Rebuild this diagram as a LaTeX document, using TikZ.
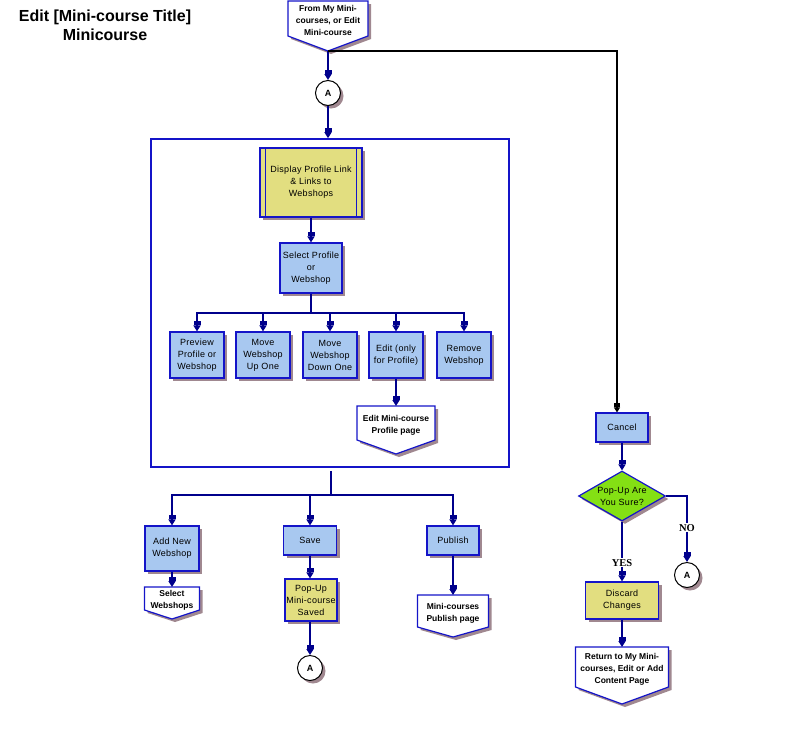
\documentclass[tikz,border=0pt]{standalone}
\usepackage{fontspec}
\setmainfont{Liberation Sans}
\newfontfamily\serifbold{Liberation Serif}[BoldFont={Liberation Serif Bold}]
\newfontfamily\boxfont{Liberation Sans}[LetterSpace=3]
\usetikzlibrary{arrows.meta,shapes.geometric,shadows,calc}
\definecolor{boxblue}{HTML}{A8C8F0}
\definecolor{edgeblue}{HTML}{1414C8}
\definecolor{navy}{HTML}{00008C}
\definecolor{boxyellow}{HTML}{E2DE80}
\definecolor{shadowc}{HTML}{A08890}
\definecolor{dgreen}{HTML}{84E014}
\tikzset{
  shad/.style={general shadow={fill=shadowc, shadow xshift=3pt, shadow yshift=-3pt}},
  proc/.style={shad, draw=edgeblue, line width=1.2pt, fill=boxblue, align=center,
    font=\boxfont\fontsize{9}{12}\selectfont, inner sep=1pt},
  yproc/.style={proc, fill=boxyellow},
  offtext/.style={align=center, font=\bfseries\fontsize{8.5}{12}\selectfont, inner sep=0pt},
  circ/.style={shad, circle, draw=black, line width=1pt, fill=white, minimum size=25pt,
    inner sep=0pt, font=\bfseries\fontsize{9}{10}\selectfont},
  arr/.style={draw=navy, line width=2.2pt,
    -{Rectangle[width=7pt,length=4pt]Triangle[width=7pt,length=6pt]}},
  ln/.style={draw=navy, line width=2.2pt},
  thinarr/.style={draw=navy, line width=1.6pt,
    -{Rectangle[width=7pt,length=4pt]Triangle[width=7pt,length=6pt]}},
  blkarr/.style={draw=black, line width=1.1pt,
    -{Rectangle[width=6pt,length=4pt]Triangle[width=6pt,length=5pt]}},
  lbl/.style={fill=white, inner sep=1pt, font=\serifbold\bfseries\fontsize{10.5}{12}\selectfont},
}
% name, cx, top, halfwidth, rect height, tip height, text
\newcommand\offpage[7]{%
  \fill[shadowc] ({#2-#4+3},{#3+3}) -- ({#2+#4+3},{#3+3}) -- ({#2+#4+3},{#3+#5+3})
     -- ({#2+3},{#3+#5+#6+3}) -- ({#2-#4+3},{#3+#5+3}) -- cycle;
  \draw[edgeblue, line width=1.2pt, fill=white] ({#2-#4},{#3}) -- ({#2+#4},{#3})
     -- ({#2+#4},{#3+#5}) -- ({#2},{#3+#5+#6}) -- ({#2-#4},{#3+#5}) -- cycle;
  \node[offtext] (#1) at ({#2},{#3+#5/2+2}) {#7};
  \coordinate (#1-top) at ({#2},{#3});
  \coordinate (#1-tip) at ({#2},{#3+#5+#6});
}
\begin{document}
\begin{tikzpicture}[x=1pt,y=-1pt]
\useasboundingbox (0,0) rectangle (800,732);

% title
\node[align=center, font=\bfseries\fontsize{16}{19}\selectfont] (title) at (105,25)
  {Edit [Mini-course Title]\\Minicourse};

% top off-page connector
\offpage{from}{328}{1}{40}{35}{15}{From My Mini-\\courses, or Edit\\Mini-course}

\node[circ] (A1) at (328,93) {A};

% big frame
\node[draw=edgeblue, line width=1.6pt, minimum width=358pt, minimum height=328pt,
  inner sep=0pt] (bigbox) at (330,303) {};

\node[yproc, minimum width=102pt, minimum height=69pt] (disp) at (311,182.5)
  {Display Profile Link\\\& Links to\\Webshops};
\draw[edgeblue, line width=1.2pt] ($(disp.north west)+(6,0)$) -- ($(disp.south west)+(6,0)$);
\draw[edgeblue, line width=1.2pt] ($(disp.north east)+(-6,0)$) -- ($(disp.south east)+(-6,0)$);

\node[proc, minimum width=62pt, minimum height=50pt] (sel) at (311,268)
  {Select Profile\\or\\Webshop};

\node[proc, minimum width=54pt, minimum height=46pt] (prev) at (197,355) {Preview\\Profile or\\Webshop};
\node[proc, minimum width=54pt, minimum height=46pt] (up) at (263,355) {Move\\Webshop\\Up One};
\node[proc, minimum width=54pt, minimum height=46pt] (down) at (330,355) {Move\\Webshop\\Down One};
\node[proc, minimum width=54pt, minimum height=46pt] (edit) at (396,355) {Edit (only\\for Profile)};
\node[proc, minimum width=54pt, minimum height=46pt] (remove) at (464,355) {Remove\\Webshop};

\offpage{editprof}{396}{406}{39}{34}{14}{Edit Mini-course\\Profile page}

% bottom row
\node[proc, minimum width=54pt, minimum height=45pt] (add) at (172,548.5) {Add New\\Webshop};
\node[proc, minimum width=53pt, minimum height=29pt] (save) at (310,540.5) {Save};
\node[proc, minimum width=52pt, minimum height=29pt] (publish) at (453,540.5) {Publish};

\offpage{selweb}{172}{587}{27.5}{23}{9}{Select\\Webshops}
\node[yproc, minimum width=52pt, minimum height=42pt] (popsaved) at (311,600)
  {Pop-Up\\Mini-course\\Saved};
\node[circ] (A2) at (310,668) {A};
\offpage{pubpage}{453}{595}{35.5}{32}{10}{Mini-courses\\Publish page}

% right column
\node[proc, minimum width=52pt, minimum height=29pt] (cancel) at (622,427.5) {Cancel};
\node[shad, diamond, aspect=1.74, draw=edgeblue, line width=1.2pt, fill=dgreen,
  minimum width=87pt, minimum height=50pt, inner sep=0pt, align=center,
  font=\boxfont\fontsize{9}{12}\selectfont] (dia) at (622,496) {Pop-Up Are\\You Sure?};
\node[circ] (A3) at (687,575) {A};
\node[yproc, minimum width=73pt, minimum height=37pt] (discard) at (622,600.5)
  {Discard\\Changes};
\offpage{ret}{622}{647}{46.5}{40}{17}{Return to My Mini-\\courses, Edit or Add\\Content Page}

% connectors
\draw[arr] (from-tip) -- (A1);
\draw[arr] (A1) -- (A1 |- bigbox.north);
\draw[blkarr] (from-tip) -| ($(cancel.north)+(-5,0)$);

\draw[arr] (disp) -- (sel);
\coordinate (b1) at (311,313);
\draw[ln] (sel) -- (b1);
\draw[arr] (b1) -| (prev);
\draw[arr] (b1) -| (up);
\draw[arr] (b1) -| (down);
\draw[arr] (b1) -| (edit);
\draw[arr] (b1) -| (remove);
\draw[arr] (edit) -- (editprof-top);

\coordinate (b2) at (331,495);
\draw[ln, shorten <=3pt] (bigbox.south -| b2) -- (b2);
\draw[arr] (b2) -| (add);
\draw[arr] (b2) -| (save);
\draw[arr] (b2) -| (publish);
\draw[arr] (add) -- (selweb-top);
\draw[arr] (save) -- (save |- popsaved.north);
\draw[arr] (popsaved.south -| A2) -- (A2);
\draw[arr] (publish) -- (pubpage-top);

\draw[arr] (cancel) -- (dia);
\draw[thinarr] (dia.east) -| node[pos=0.74, lbl] {NO} (A3);
\draw[thinarr] (dia.south) -- node[pos=0.69, lbl] {YES} (discard);
\draw[arr] (discard) -- (ret-top);
\end{tikzpicture}
\end{document}
